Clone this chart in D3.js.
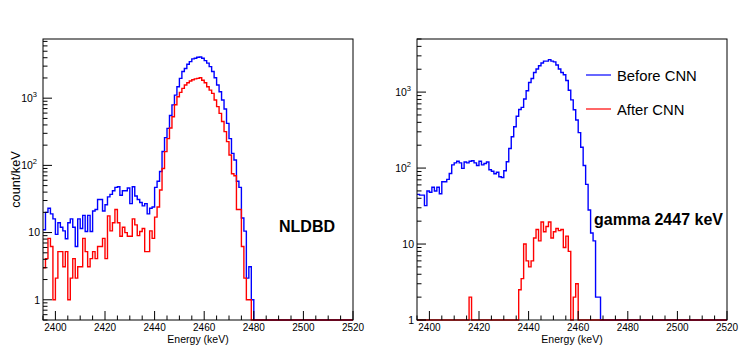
<!DOCTYPE html>
<html>
<head>
<meta charset="utf-8">
<script src="https://cdn.jsdelivr.net/npm/d3@7"></script>
<style>
  body { margin: 0; background: #fff; }
  svg { display: block; font-family: "Liberation Sans", Arial, Helvetica, sans-serif; }
</style>
</head>
<body>
<svg id="chart" width="747" height="359"></svg>
<script>
// 1 keV bins, low edges 2395 ... 2519
const energyStart = 2395;
const energyEnd = 2520;
const xTickValues = [2400, 2420, 2440, 2460, 2480, 2500, 2520];
const yTickValues = [1, 10, 100, 1000];
const seriesNames = ["Before CNN", "After CNN"];

// NLDBD panel, count/keV
const nldbdBefore = [
  11, 20, 23, 19, 16, 9.4, 14, 12, 10.6, 8.1,
  14, 16, 12, 6.2, 16, 11.5, 18, 10.4, 18, 10.4,
  21, 22, 31, 31, 21, 26, 34, 37, 42, 47,
  48, 36, 42, 42, 46, 27, 48, 35, 31, 28,
  25, 27, 19, 23, 24, 47, 58, 81, 161, 259,
  356, 552, 796, 1110, 1480, 1970, 2490, 2770, 3200, 3500,
  3840, 3930, 4060, 4110, 3930, 3620, 3320, 2950, 2490, 2010,
  1570, 1250, 940, 690, 422, 250, 151, 120, 58, 47,
  16.5, 10.5, 2.1, 3.1, 1, 0, 0, 0, 0, 0,
  0, 0, 0, 0, 0, 0, 0, 0, 0, 0,
  0, 0, 0, 0, 0, 0, 0, 0, 0, 0,
  0, 0, 0, 0, 0, 0, 0, 0, 0, 0,
  0, 0, 0, 0, 0
];
const nldbdAfter = [
  3, 4.1, 8.2, 6.2, 1, 2.1, 5.2, 5.2, 3.1, 5.2,
  1, 2.1, 4.1, 2.1, 3.1, 3.1, 8.2, 5.2, 3.1, 4.1,
  5.2, 4.1, 6.2, 6.2, 8.2, 4.1, 17.7, 10.6, 14, 22,
  14, 8.8, 12, 10, 8.8, 8.8, 16, 13, 9, 10.4,
  11.5, 5.2, 5.2, 10.6, 8.2, 17, 24, 43, 90, 160,
  250, 360, 530, 800, 1050, 1220, 1400, 1570, 1700, 1800,
  1880, 1940, 1970, 2010, 1850, 1700, 1480, 1320, 1180, 940,
  750, 595, 450, 318, 226, 143, 75, 70, 22, 22,
  6.2, 2.1, 1, 1, 0, 0, 0, 0, 0, 0,
  0, 0, 0, 0, 0, 0, 0, 0, 0, 0,
  0, 0, 0, 0, 0, 0, 0, 0, 0, 0,
  0, 0, 0, 0, 0, 0, 0, 0, 0, 0,
  0, 0, 0, 0, 0
];

// gamma 2447 keV panel
const gammaBefore = [
  45, 44, 44, 32, 50, 48, 56, 50, 56, 46,
  66, 66, 71, 85, 110, 117, 123, 117, 99, 120,
  117, 123, 125, 117, 108, 123, 110, 115, 120, 95,
  91, 84, 88, 77, 75, 92, 121, 181, 258, 350,
  482, 590, 630, 810, 1040, 1340, 1510, 1810, 2010, 2220,
  2420, 2560, 2560, 2680, 2560, 2500, 2270, 2010, 1810, 1690,
  1420, 1060, 790, 585, 430, 293, 188, 108, 61, 28,
  14, 11, 2, 2, 0, 0, 0, 0, 0, 0,
  0, 0, 0, 0, 0, 0, 0, 0, 0, 0,
  0, 0, 0, 0, 0, 0, 0, 0, 0, 0,
  0, 0, 0, 0, 0, 0, 0, 0, 0, 0,
  0, 0, 0, 0, 0, 0, 0, 0, 0, 0,
  0, 0, 0, 0, 0
];
const gammaAfter = [
  0, 0, 0, 0, 0, 0, 0, 0, 0, 0,
  0, 0, 0, 0, 0, 0, 0, 0, 0, 0,
  0, 2, 0, 0, 0, 0, 0, 0, 0, 0,
  0, 0, 0, 0, 0, 0, 0, 0, 0, 0,
  0, 2.5, 3.5, 10, 6, 5, 6, 12, 15.5, 11,
  19.5, 14.5, 17, 19.5, 12, 14.5, 16, 15, 15.5, 9,
  12.7, 8, 0, 2, 3, 0, 0, 0, 0, 0,
  0, 0, 0, 0, 0, 0, 0, 0, 0, 0,
  0, 0, 0, 0, 0, 0, 0, 0, 0, 0,
  0, 0, 0, 0, 0, 0, 0, 0, 0, 0,
  0, 0, 0, 0, 0, 0, 0, 0, 0, 0,
  0, 0, 0, 0, 0, 0, 0, 0, 0, 0,
  0, 0, 0, 0, 0
];

const colors = ["#0000ff", "#ff0000"];
const svg = d3.select("#chart");

const panels = [
  { id: "nldbd", left: 43, right: 353, yMin: 0.5, yMax: 7600,
    series: [nldbdBefore, nldbdAfter], tag: "NLDBD", tagX: 279, tagY: 232,
    yTitle: "count/keV", legend: false },
  { id: "gamma", left: 417, right: 727, yMin: 1, yMax: 5000,
    series: [gammaBefore, gammaAfter], tag: "gamma 2447 keV", tagX: 594, tagY: 225,
    yTitle: null, legend: true }
];
const frameTop = 39, frameBottom = 320;

panels.forEach(p => {
  const x = d3.scaleLinear().domain([energyStart, energyEnd]).range([p.left, p.right]);
  const y = d3.scaleLog().domain([p.yMin, p.yMax]).range([frameBottom, frameTop]);
  const g = svg.append("g");

  g.append("clipPath").attr("id", "clip-" + p.id)
    .append("rect")
    .attr("x", p.left - 1).attr("y", frameTop)
    .attr("width", p.right - p.left + 2).attr("height", frameBottom - frameTop + 1.5);

  // histogram outlines, zero / underflow bins sit on the frame bottom
  const step = d3.line()
    .x(d => x(d[0]))
    .y(d => y(Math.max(d[1], p.yMin)));

  p.series.forEach((vals, k) => {
    const pts = [];
    vals.forEach((v, i) => {
      pts.push([energyStart + i, v]);
      pts.push([energyStart + i + 1, v]);
    });
    g.append("path")
      .attr("clip-path", "url(#clip-" + p.id + ")")
      .attr("d", step(pts))
      .attr("fill", "none")
      .attr("stroke", colors[k])
      .attr("stroke-width", 1.4);
  });

  // frame
  g.append("rect")
    .attr("x", p.left).attr("y", frameTop)
    .attr("width", p.right - p.left).attr("height", frameBottom - frameTop)
    .attr("fill", "none").attr("stroke", "#000").attr("stroke-width", 1);

  // x ticks (inside)
  const xMinor = d3.range(2395, 2521, 5).filter(t => !xTickValues.includes(t));
  g.selectAll(null).data(xMinor).enter().append("line")
    .attr("x1", d => x(d)).attr("x2", d => x(d))
    .attr("y1", frameBottom).attr("y2", frameBottom - 4.5)
    .attr("stroke", "#000");
  g.selectAll(null).data(xTickValues).enter().append("line")
    .attr("x1", d => x(d)).attr("x2", d => x(d))
    .attr("y1", frameBottom).attr("y2", frameBottom - 9)
    .attr("stroke", "#000");
  g.selectAll(null).data(xTickValues).enter().append("text")
    .attr("x", d => x(d)).attr("y", 331)
    .attr("text-anchor", "middle")
    .attr("font-size", 10)
    .text(d => d);
  g.append("text")
    .attr("x", (p.left + p.right) / 2).attr("y", 343)
    .attr("text-anchor", "middle")
    .attr("font-size", 10.5)
    .text("Energy (keV)");

  // y ticks (log, inside)
  const yMinor = [];
  [0.1, 1, 10, 100, 1000].forEach(dec => {
    for (let m = 2; m <= 9; m++) {
      const v = dec * m;
      if (v >= p.yMin && v <= p.yMax) yMinor.push(v);
    }
  });
  g.selectAll(null).data(yMinor).enter().append("line")
    .attr("x1", p.left).attr("x2", p.left + 4.5)
    .attr("y1", d => y(d)).attr("y2", d => y(d))
    .attr("stroke", "#000");
  g.selectAll(null).data(yTickValues).enter().append("line")
    .attr("x1", p.left).attr("x2", p.left + 9)
    .attr("y1", d => y(d)).attr("y2", d => y(d))
    .attr("stroke", "#000");
  yTickValues.forEach(v => {
    const exp = Math.round(Math.log10(v));
    const t = g.append("text")
      .attr("y", y(v)).attr("dy", "0.36em")
      .attr("text-anchor", "end")
      .attr("font-size", 10.5);
    if (exp < 2) {
      t.attr("x", p.left - 3).text(v);
    } else {
      t.attr("x", p.left - 6);
      t.append("tspan").text("10");
      t.append("tspan").attr("dy", -5).attr("font-size", 7.5).text(exp);
    }
  });

  if (p.yTitle) {
    g.append("text")
      .attr("transform", "translate(20," + ((frameTop + frameBottom) / 2) + ") rotate(-90)")
      .attr("text-anchor", "middle")
      .attr("font-size", 12.7)
      .text(p.yTitle);
  }

  g.append("text")
    .attr("x", p.tagX).attr("y", p.tagY)
    .attr("font-size", 16).attr("font-weight", "bold")
    .text(p.tag);

  if (p.legend) {
    const rows = [75, 109];
    seriesNames.forEach((name, k) => {
      g.append("line")
        .attr("x1", 586).attr("x2", 611)
        .attr("y1", rows[k]).attr("y2", rows[k])
        .attr("stroke", colors[k]).attr("stroke-width", 1.2);
      g.append("text")
        .attr("x", 617).attr("y", rows[k] + 5.5)
        .attr("font-size", 14.8)
        .text(name);
    });
  }
});
</script>
</body>
</html>
